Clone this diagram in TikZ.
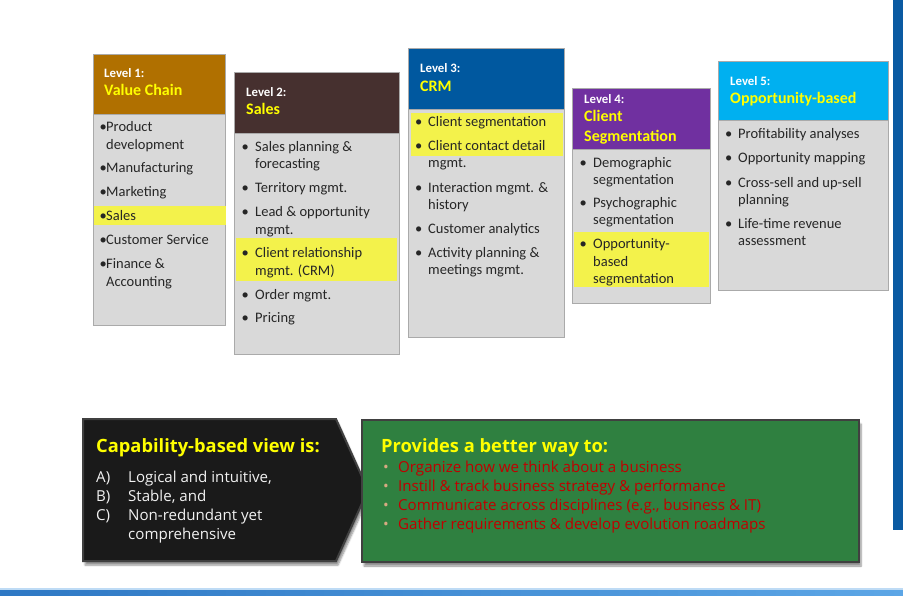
\documentclass[tikz,border=0pt]{standalone}
\usepackage{fontspec}
\setmainfont{Carlito}
\newfontfamily\segoe{Open Sans}
\usetikzlibrary{shadows.blur}
\definecolor{c1}{RGB}{176,112,0}
\definecolor{c2}{RGB}{70,48,47}
\definecolor{c3}{RGB}{0,88,159}
\definecolor{c4}{RGB}{112,48,160}
\definecolor{c5}{RGB}{0,176,240}
\definecolor{bodygray}{RGB}{217,217,217}
\definecolor{edgegray}{RGB}{170,170,170}
\definecolor{hl}{RGB}{243,242,75}
\definecolor{ttl}{RGB}{255,255,0}
\definecolor{txt}{RGB}{38,38,38}
\definecolor{darkbox}{RGB}{26,26,26}
\definecolor{darkedge}{RGB}{64,64,64}
\definecolor{greenbox}{RGB}{47,128,64}
\definecolor{redtxt}{RGB}{192,0,0}
\definecolor{tanbul}{RGB}{214,170,130}
\definecolor{barblue}{RGB}{10,90,162}
\definecolor{bandL}{RGB}{46,120,196}
\definecolor{bandR}{RGB}{92,166,230}
\tikzset{
  boxpart/.style={draw=edgegray, line width=0.8pt, anchor=north west, inner sep=0pt, outer sep=0pt},
  hlbar/.style={fill=hl, anchor=north west, inner sep=0pt, outer sep=0pt},
  lvl/.style={anchor=base west, inner sep=0pt, text=white, font=\fontsize{12.8}{14}\selectfont\bfseries},
  ttlf/.style={anchor=base west, inner sep=0pt, text=ttl, font=\fontsize{16}{19}\selectfont\bfseries},
  item/.style={anchor=base west, inner sep=0pt, text=txt, font=\fontsize{14.5}{17.5}\selectfont},
  bul/.style={anchor=base west, inner sep=0pt, text=txt, font=\fontsize{14.5}{17.5}\selectfont},
  segh/.style={anchor=base west, inner sep=0pt, text=ttl, font=\segoe\fontsize{18.3}{22}\selectfont\bfseries},
  segt/.style={anchor=base west, inner sep=0pt, font=\segoe\fontsize{15.1}{19}\selectfont},
}
\begin{document}
\begin{tikzpicture}[x=1pt,y=-1pt]
\useasboundingbox (0,0) rectangle (903,596);
% right bar and bottom band
\fill[barblue] (893,0) rectangle (903,530);
\shade[left color=bandL, right color=bandR] (0,588) rectangle (903,596);
\fill[white!60!bandR] (0,588) rectangle (903,589.5);

% ---------- Box 1
\node[boxpart, fill=c1, minimum width=132pt, minimum height=60pt] (h1) at (93,54) {};
\node[boxpart, fill=bodygray, minimum width=132pt, minimum height=211pt] (g1) at (93,114) {};
\node[hlbar, minimum width=132pt, minimum height=19pt] (y1) at (93.5,206) {};
\node[lvl] (l1) at (104,78) {Level 1:};
\node[ttlf] (n1) at (104,96) {Value Chain};
\foreach \y/\b/\t [count=\i] in {132/1/Product, 150/0/development, 173/1/Manufacturing, 197/1/Marketing, 221/1/Sales, 245/1/Customer Service, 269/1/Finance \&, 287/0/Accounting}{
  \node[item] (t1-\i) at (106,\y) {\t};
  \ifnum\b=1 \node[bul] (u1-\i) at (99.5,\y) {•};\fi
}

% ---------- Box 2
\node[boxpart, fill=c2, minimum width=165pt, minimum height=61pt] (h2) at (234,72) {};
\node[boxpart, fill=bodygray, minimum width=165pt, minimum height=221pt] (g2) at (234,133) {};
\node[hlbar, minimum width=161pt, minimum height=43pt] (y2) at (236,238) {};
\node[lvl] (l2) at (246,97) {Level 2:};
\node[ttlf] (n2) at (246,115) {Sales};
\foreach \y/\b/\t [count=\i] in {152/1/Sales planning \&, 169/0/forecasting, 193/1/Territory mgmt., 217/1/Lead \& opportunity, 235/0/mgmt., 258/1/Client relationship, 276/0/mgmt. (CRM), 300/1/Order mgmt., 323/1/Pricing}{
  \node[item] (t2-\i) at (255,\y) {\t};
  \ifnum\b=1 \node[bul] (u2-\i) at (241.5,\y) {•};\fi
}

% ---------- Box 3
\node[boxpart, fill=c3, minimum width=156pt, minimum height=61pt] (h3) at (408,48) {};
\node[boxpart, fill=bodygray, minimum width=156pt, minimum height=228pt] (g3) at (408,109) {};
\node[hlbar, minimum width=152pt, minimum height=43pt] (y3) at (411,113) {};
\node[lvl] (l3) at (420,73) {Level 3:};
\node[ttlf] (n3) at (420,92) {CRM};
\foreach \y/\b/\t [count=\i] in {127/1/Client segmentation, 151/1/Client contact detail, 168/0/mgmt., 193/1/Interaction mgmt. \&, 210/0/history, 234/1/Customer analytics, 258/1/Activity planning \&, 275/0/meetings mgmt.}{
  \node[item] (t3-\i) at (428,\y) {\t};
  \ifnum\b=1 \node[bul] (u3-\i) at (415,\y) {•};\fi
}

% ---------- Box 4
\node[boxpart, fill=c4, minimum width=138pt, minimum height=61pt] (h4) at (572,88) {};
\node[boxpart, fill=bodygray, minimum width=138pt, minimum height=154pt] (g4) at (572,149) {};
\node[hlbar, minimum width=135pt, minimum height=55pt] (y4) at (573.5,232) {};
\node[lvl] (l4) at (584,104) {Level 4:};
\node[ttlf] (n4a) at (584,122) {Client};
\node[ttlf] (n4b) at (584,142) {Segmentation};
\foreach \y/\b/\t [count=\i] in {168/1/Demographic, 185/0/segmentation, 208/1/Psychographic, 225/0/segmentation, 249/1/Opportunity-, 267/0/based, 284/0/segmentation}{
  \node[item] (t4-\i) at (593,\y) {\t};
  \ifnum\b=1 \node[bul] (u4-\i) at (579.5,\y) {•};\fi
}

% ---------- Box 5
\node[boxpart, fill=c5, minimum width=170pt, minimum height=59pt] (h5) at (718,61) {};
\node[boxpart, fill=bodygray, minimum width=170pt, minimum height=170pt] (g5) at (718,120) {};
\node[lvl] (l5) at (730,86) {Level 5:};
\node[ttlf] (n5) at (730,104) {Opportunity-based};
\foreach \y/\b/\t [count=\i] in {139/1/Profitability analyses, 163/1/Opportunity mapping, 188/1/Cross-sell and up-sell, 205/0/planning, 229/1/Life-time revenue, 246/0/assessment}{
  \node[item] (t5-\i) at (738,\y) {\t};
  \ifnum\b=1 \node[bul] (u5-\i) at (725,\y) {•};\fi
}

% ---------- Bottom left arrow shape
\path[fill=darkbox, draw=darkedge, line width=2pt, line join=miter,
  blur shadow={shadow xshift=2pt, shadow yshift=-4pt, shadow blur steps=6, shadow opacity=45}]
  (83,419) -- (336,419) -- (368,490) -- (336,561) -- (83,561) -- cycle;
\node[segh] (capt) at (96,452) {Capability-based view is:};
\foreach \y/\l/\t [count=\i] in {482/A)/{Logical and intuitive,}, 501/B)/{Stable, and}, 520/C)/{Non-redundant yet}}{
  \node[segt, text=white!95!black] (cl-\i) at (96,\y) {\l};
  \node[segt, text=white!95!black] (ct-\i) at (128,\y) {\t};
}
\node[segt, text=white!95!black] (ct-4) at (128,539) {comprehensive};

% ---------- Bottom right green box
\node[draw=darkedge, line width=2pt, fill=greenbox, anchor=north west, inner sep=0pt,
  minimum width=497pt, minimum height=142pt,
  blur shadow={shadow xshift=2pt, shadow yshift=-4pt, shadow blur steps=6, shadow opacity=45}] (gb) at (361,419) {};
\node[segh] (gbt) at (381,452) {Provides a better way to:};
\foreach \y/\t [count=\i] in {472/{Organize how we think about a business}, 491/{Instill \& track business strategy \& performance}, 510/{Communicate across disciplines (e.g., business \& IT)}, 529/{Gather requirements \& develop evolution roadmaps}}{
  \node[segt, text=tanbul] (gu-\i) at (383,\y) {•};
  \node[segt, text=redtxt] (gt-\i) at (398,\y) {\t};
}
\end{tikzpicture}
\end{document}
